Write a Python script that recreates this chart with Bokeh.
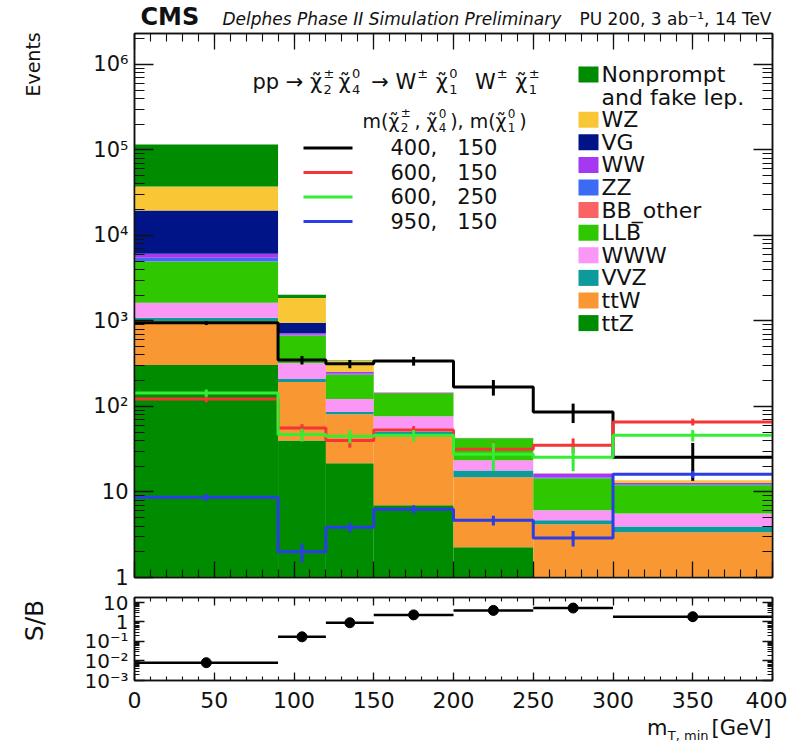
import numpy as np
from bokeh.plotting import figure
from bokeh.layouts import column
from bokeh.models import (FixedTicker, LinearAxis, LogAxis, CustomJSTickFormatter,
                          Label, BoxAnnotation, Range1d)
from bokeh.embed import file_html
from bokeh.resources import INLINE

# ---------------------------------------------------------------- data
edges = [0, 90, 120, 150, 200, 250, 300, 400]
centers = [45, 105, 135, 175, 225, 275, 350]

# background yields per m_T,min bin (stack order: bottom -> top)
ttZ = [306, 40, 21.7, 7.0, 2.25, 0, 0]
ttW = [694, 153, 59.3, 39, 12.6, 4.2, 3.37]
VVZ = [87, 17, 5, 5, 3.0, 0.46, 0.59]
WWW = [543, 113, 36, 26, 5.6, 1.44, 1.64]
LLB = [3300, 345, 111, 63, 19.1, 8.4, 6.4]
BB_other = [20, 7, 3, 0.5, 0, 0, 0]
ZZ = [550, 15, 6, 1, 0.1, 0.3, 0.3]
WW = [620, 30, 11, 1.5, 0.2, 1.7, 0.4]
VG = [13480, 230, 2, 0.5, 0, 0, 0]
WZ = [17700, 910, 86, 2, 0.2, 0.1, 1.0]
nonprompt = [78700, 160, 4, 1.5, 0, 0, 0]

# signal yields and statistical uncertainties: m(chi2+-, chi4^0), m(chi1^0)
sig_400_150 = [950, 350, 315, 340, 169, 86, 25.5]
err_400_150 = [50, 40, 35, 40, 35, 22, 12]
sig_600_150 = [122, 56, 40, 53, 31.7, 35.3, 66]
err_600_150 = [10, 6, 7, 6, 7, 7, 6]
sig_600_250 = [144, 47, 45, 46, 27.7, 25.5, 46]
err_600_250 = [14, 8, 8, 7, 10, 8, 7]
sig_950_150 = [8.7, 2.0, 3.86, 6.3, 4.66, 2.9, 16.1]
err_950_150 = [0.8, 0.5, 0.5, 0.7, 0.6, 0.6, 1.5]

x_ticks = [0, 50, 100, 150, 200, 250, 300, 350, 400]

# ---------------------------------------------------------------- style
FONT = "DejaVu Sans"
NBSP = "\u00a0"
W = 787
F_LEFT, F_RIGHT = 134, 772          # frame edges (page pixels)
H_HEAD, H_MAIN, H_RATIO, H_FOOT = 30, 560, 125, 28
MAIN_TOP, MAIN_BOTTOM = 33, 577
RATIO_TOP, RATIO_BOTTOM = 597, 680
PAGE_H = H_HEAD + H_MAIN + H_RATIO + H_FOOT
Y_MAIN_TOP = 2.3e6
Y_RATIO_TOP = 18

stack = [
    ("ttZ", ttZ, "#008c00"),
    ("ttW", ttW, "#f99733"),
    ("VVZ", VVZ, "#0d9a9a"),
    ("WWW", WWW, "#f996f6"),
    ("LLB", LLB, "#2fc800"),
    ("BB_other", BB_other, "#f96363"),
    ("ZZ", ZZ, "#3b6bf5"),
    ("WW", WW, "#a638f2"),
    ("VG", VG, "#001488"),
    ("WZ", WZ, "#f9c735"),
    ("Nonprompt", nonprompt, "#008c00"),
]
signals = [
    ("400," + NBSP * 3 + "150", sig_400_150, err_400_150, "#000000"),
    ("600," + NBSP * 3 + "150", sig_600_150, err_600_150, "#f53535"),
    ("600," + NBSP * 3 + "250", sig_600_250, err_600_250, "#33ee33"),
    ("950," + NBSP * 3 + "150", sig_950_150, err_950_150, "#2b3de6"),
]

LOG_FMT = CustomJSTickFormatter(code=r"""
const e = Math.round(Math.log10(tick));
if (e === 0) return "1";
if (e === 1) return "10";
const m = {"-": "\u207b", "0": "\u2070", "1": "\u00b9", "2": "\u00b2", "3": "\u00b3",
           "4": "\u2074", "5": "\u2075", "6": "\u2076", "7": "\u2077", "8": "\u2078", "9": "\u2079"};
return "10" + String(e).split("").map(c => m[c]).join("");
""")
EMPTY_FMT = CustomJSTickFormatter(code="return ''")


def decade_ticker(lo, hi, top):
    major = [10.0 ** k for k in range(lo, hi + 1)]
    minor = [m * 10.0 ** k for k in range(lo, hi + 1) for m in range(2, 10) if m * 10.0 ** k <= top]
    return FixedTicker(ticks=major, minor_ticks=minor)


def style_axis(ax, major_in, minor_in, labels=True, size="21px", standoff=6, fmt=None):
    ax.major_tick_in = major_in
    ax.major_tick_out = 0
    ax.minor_tick_in = minor_in
    ax.minor_tick_out = 0
    ax.axis_line_color = "#111111"
    ax.axis_line_width = 1.5
    ax.major_tick_line_color = "#111111"
    ax.minor_tick_line_color = "#111111"
    ax.major_tick_line_width = 1.3
    ax.minor_tick_line_width = 1.1
    ax.major_label_text_font = FONT
    ax.major_label_text_color = "#111111"
    if labels:
        ax.major_label_text_font_size = size
        ax.major_label_standoff = standoff
        if fmt is not None:
            ax.formatter = fmt
    else:
        ax.formatter = EMPTY_FMT
        ax.major_label_text_font_size = "1px"
        ax.major_label_standoff = 0


def title_axis(fig, title, at, size, standoff):
    """Vertical axis title drawn as the single tick label of a bare outer axis."""
    ax = LogAxis(ticker=FixedTicker(ticks=[at], minor_ticks=[]),
                 formatter=CustomJSTickFormatter(code=f"return '{title}'"))
    ax.axis_line_color = None
    ax.major_tick_line_color = None
    ax.minor_tick_line_color = None
    ax.major_tick_in = 0
    ax.major_tick_out = 0
    ax.minor_tick_in = 0
    ax.minor_tick_out = 0
    ax.major_label_orientation = "vertical"
    ax.major_label_text_font = FONT
    ax.major_label_text_font_size = f"{size}px"
    ax.major_label_text_color = "#111111"
    ax.major_label_standoff = standoff
    fig.add_layout(ax, "left")


def text(fig, fl, fb, cx, cy, s, size, align="left", style="normal", color="#111111"):
    """Text centred vertically on page position cy; (fl, fb) = page x/y of the frame's bottom-left."""
    fig.add_layout(Label(x=cx - fl, y=fb - cy, x_units="screen", y_units="screen",
                         text=s, text_font=FONT, text_font_size=f"{size}px",
                         text_align=align, text_baseline="middle",
                         text_font_style=style, text_color=color))


ADV = {"p": .635, " ": .318, NBSP: .318, "\u2192": .838, "\u03c7": .59, "W": .989,
       "m": .974, "(": .39, ")": .39, ",": .318, "\u00b1": .838}


def adv(s, size):
    return sum(ADV.get(c, .636) for c in s if c != "\u0303") * size


def formula(fig, fl, fb, pieces, x, cy, size):
    """Text run with chi-tilde symbols carrying stacked super/subscripts."""
    ss = round(size * 0.62)
    for piece in pieces:
        kind = piece[0]
        if kind == "t":
            text(fig, fl, fb, x, cy, piece[1], size)
            x += adv(piece[1], size)
        elif kind == "x":
            text(fig, fl, fb, x, cy, "\u03c7\u0303", size)
            x += adv("\u03c7", size) + 1
            sup, sub = piece[1], piece[2]
            text(fig, fl, fb, x, cy - 0.37 * size, sup, ss)
            text(fig, fl, fb, x, cy + 0.38 * size, sub, ss)
            x += max(adv(sup, ss), adv(sub, ss)) + 0.2 * size
        elif kind == "^":
            text(fig, fl, fb, x + 1, cy - 0.37 * size, piece[1], ss)
            x += adv(piece[1], ss) + 2
    return x


def strip_figure(height):
    """Plain text strip whose frame lines up with the panels below it."""
    f = figure(width=W, height=height, x_range=Range1d(0, 1), y_range=Range1d(0, 1),
               output_backend="svg", toolbar_location=None,
               x_axis_location=None, y_axis_location=None,
               min_border_left=F_LEFT, min_border_right=W - F_RIGHT,
               min_border_top=0, min_border_bottom=0)
    f.grid.visible = False
    f.outline_line_color = None
    return f


# ---------------------------------------------------------------- header
head = strip_figure(H_HEAD)
text(head, F_LEFT, H_HEAD, 140, 16, "CMS", 24, style="bold")
text(head, F_LEFT, H_HEAD, 222, 18, "Delphes Phase II Simulation Preliminary", 17, style="italic")
text(head, F_LEFT, H_HEAD, 771, 18, "PU 200, 3 ab\u207b\u00b9, 14 TeV", 17, align="right")

# ---------------------------------------------------------------- main panel
x_major = FixedTicker(ticks=x_ticks, minor_ticks=list(range(0, 401, 10)))

p = figure(width=W, height=H_MAIN, y_axis_type="log",
           x_range=Range1d(0, 400), y_range=Range1d(1, Y_MAIN_TOP),
           output_backend="svg", toolbar_location=None,
           min_border_left=F_LEFT, min_border_right=W - F_RIGHT,
           min_border_top=MAIN_TOP - H_HEAD,
           min_border_bottom=H_HEAD + H_MAIN - MAIN_BOTTOM)
p.grid.visible = False
p.outline_line_color = "#111111"
p.outline_line_width = 1.5

y_main_ticker = decade_ticker(0, 6, Y_MAIN_TOP)
p.xaxis[0].ticker = x_major
p.yaxis[0].ticker = y_main_ticker
style_axis(p.xaxis[0], 16, 8, labels=False)
style_axis(p.yaxis[0], 19, 10, labels=True, size="21px", standoff=6, fmt=LOG_FMT)
title_axis(p, "Events", 1.0e6, 19, 46)
top_ax = LinearAxis(ticker=x_major)
style_axis(top_ax, 16, 8, labels=False)
p.add_layout(top_ax, "above")
right_ax = LogAxis(ticker=y_main_ticker)
style_axis(right_ax, 19, 10, labels=False)
p.add_layout(right_ax, "right")

# stacked backgrounds
base = np.full(len(centers), 1e-3)
for name, vals, col in stack:
    top = np.maximum(base + np.array(vals, dtype=float), 1e-3)
    p.quad(left=edges[:-1], right=edges[1:], bottom=base, top=top,
           fill_color=col, line_color=None)
    base = top
total_bkg = base.copy()

# signal histograms with error bars
for label, vals, errs, col in signals:
    p.step(x=edges, y=list(vals) + [vals[-1]], mode="after", line_color=col, line_width=3)
    v = np.array(vals, dtype=float)
    e = np.array(errs, dtype=float)
    p.segment(x0=centers, y0=v - e, x1=centers, y1=v + e, line_color=col, line_width=3)

FL, FB = F_LEFT, MAIN_BOTTOM
# process
formula(p, FL, FB, [("t", "pp \u2192"), ("t", NBSP), ("x", "\u00b1", "2"), ("x", "0", "4"),
                    ("t", NBSP + "\u2192" + NBSP + "W"), ("^", "\u00b1"), ("t", NBSP),
                    ("x", "0", "1"), ("t", NBSP + NBSP + "W"), ("^", "\u00b1"), ("t", NBSP),
                    ("x", "\u00b1", "1")],
        252, 81, 21)

# signal legend
formula(p, FL, FB, [("t", "m("), ("x", "\u00b1", "2"), ("t", "," + NBSP), ("x", "0", "4"),
                    ("t", ")," + NBSP + "m("), ("x", "0", "1"), ("t", ")")], 362, 120, 19)
for i, (label, vals, errs, col) in enumerate(signals):
    cy = 147.5 + 24.5 * i
    p.add_layout(BoxAnnotation(left=303 - FL, right=352 - FL,
                               bottom=FB - cy - 1.5, top=FB - cy + 1.5,
                               left_units="screen", right_units="screen",
                               bottom_units="screen", top_units="screen",
                               fill_color=col, fill_alpha=1.0, line_color=None))
    text(p, FL, FB, 390, cy, label, 21)

# background legend (top of stack first)
legend_rows = [("Nonprompt", "and fake lep.")] + [(n,) for n, _, _ in stack[::-1][1:]]
legend_cols = [c for _, _, c in stack[::-1]]
row = 0
for names, col in zip(legend_rows, legend_cols):
    cy = 74 + 22.6 * row
    p.add_layout(BoxAnnotation(left=578 - FL, right=598 - FL,
                               bottom=FB - cy - 8, top=FB - cy + 8,
                               left_units="screen", right_units="screen",
                               bottom_units="screen", top_units="screen",
                               fill_color=col, fill_alpha=1.0, line_color=None))
    for k, nm in enumerate(names):
        text(p, FL, FB, 601, cy + 22.6 * k, nm, 22)
    row += len(names)

# ---------------------------------------------------------------- S/B panel
ratio_fig_top = H_HEAD + H_MAIN
p2 = figure(width=W, height=H_RATIO, y_axis_type="log",
            x_range=p.x_range, y_range=Range1d(1e-3, Y_RATIO_TOP),
            output_backend="svg", toolbar_location=None,
            min_border_left=F_LEFT, min_border_right=W - F_RIGHT,
            min_border_top=RATIO_TOP - ratio_fig_top,
            min_border_bottom=ratio_fig_top + H_RATIO - RATIO_BOTTOM)
p2.grid.visible = False
p2.outline_line_color = "#111111"
p2.outline_line_width = 1.5

y_ratio_ticker = decade_ticker(-3, 1, Y_RATIO_TOP)
p2.xaxis[0].ticker = x_major
p2.yaxis[0].ticker = y_ratio_ticker
style_axis(p2.xaxis[0], 8, 4, labels=True, size="22px", standoff=11)
style_axis(p2.yaxis[0], 10, 5, labels=True, size="20px", standoff=6, fmt=LOG_FMT)
title_axis(p2, "S/B", 1.2, 25, 32)
top2 = LinearAxis(ticker=x_major)
style_axis(top2, 8, 4, labels=False)
p2.add_layout(top2, "above")
right2 = LogAxis(ticker=y_ratio_ticker)
style_axis(right2, 10, 5, labels=False)
p2.add_layout(right2, "right")

sig = np.array(sig_400_150, dtype=float)
sb = sig / total_bkg
sb_err = sb * np.array(err_400_150, dtype=float) / sig
p2.segment(x0=edges[:-1], y0=sb, x1=edges[1:], y1=sb, line_color="black", line_width=2.5)
p2.segment(x0=centers, y0=sb - sb_err, x1=centers, y1=sb + sb_err, line_color="black", line_width=2.5)
p2.scatter(x=centers, y=sb, size=10, color="black")

# ---------------------------------------------------------------- x-axis title
foot = strip_figure(H_FOOT)
text(foot, F_LEFT, PAGE_H, 771, 727, "[GeV]", 21, align="right")
text(foot, F_LEFT, PAGE_H, 708, 735, "T, min", 13, align="right")
text(foot, F_LEFT, PAGE_H, 667, 727, "m", 21, align="right")

layout = column(head, p, p2, foot, spacing=0)
open("out.html", "w").write(file_html(layout, INLINE))
